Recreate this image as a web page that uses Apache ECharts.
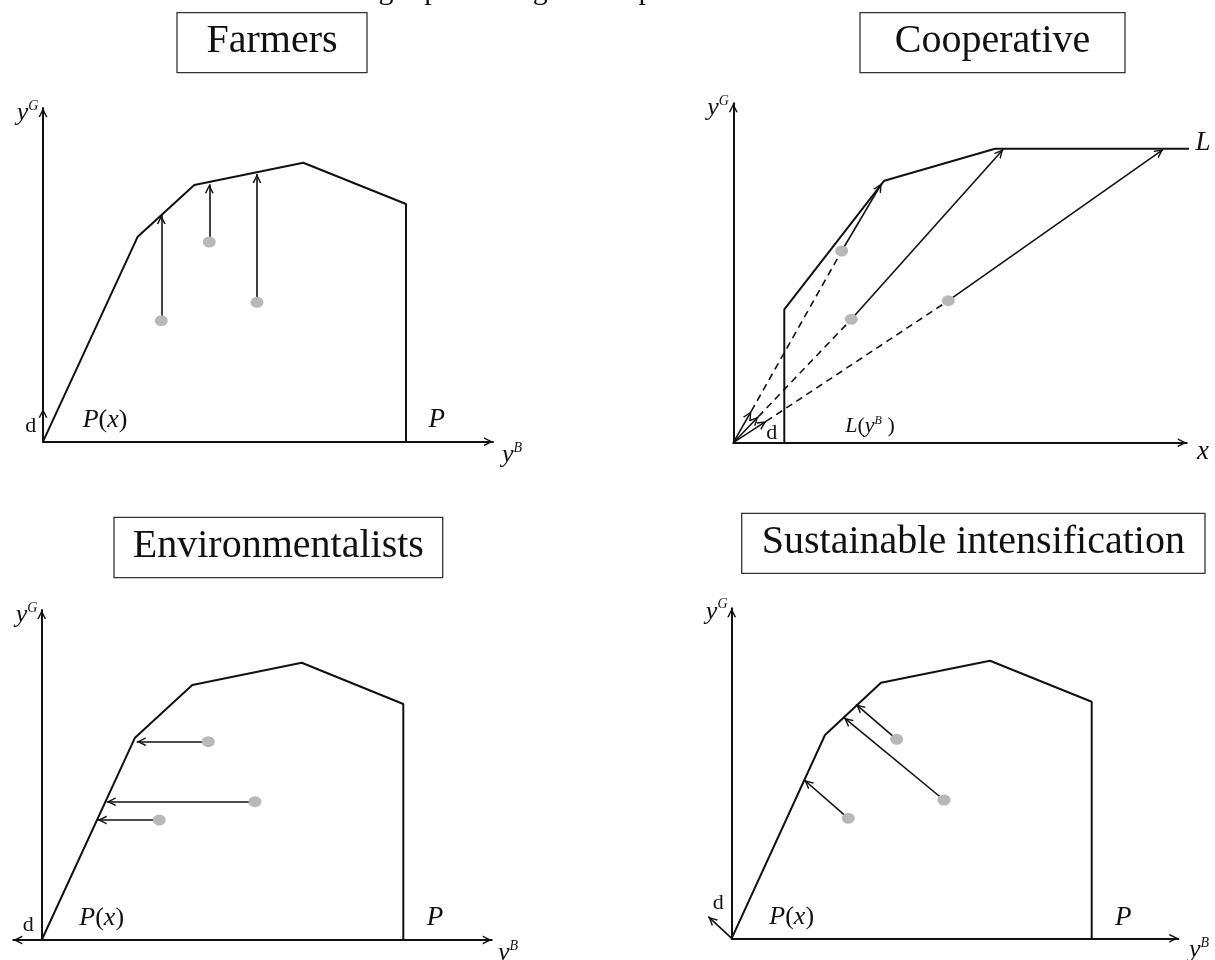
<!DOCTYPE html>
<html><head><meta charset="utf-8">
<script src="https://cdn.jsdelivr.net/npm/echarts@6/dist/echarts.min.js"></script>
<style>html,body{margin:0;padding:0;background:#fff}#c{width:1215px;height:960px}</style>
</head><body><div id="c"></div><script>
// ---------- data (units measured from each panel's origin) ----------
const titles = ['Farmers', 'Cooperative', 'Environmentalists', 'Sustainable intensification'];

// Farmers
const farmFrontX = [0, 94.7, 151.3, 260.3, 363, 363];
const farmFrontY = [0, 205, 256.7, 279, 237.7, 0];
const farmDotX = [118.3, 166.3, 214];
const farmDotY = [121, 199.7, 139.4];
const farmTipX = [118.3, 166.3, 214];
const farmTipY = [226.7, 257.4, 267.7];
const farmDirFromX = [0], farmDirFromY = [0], farmDirToX = [0], farmDirToY = [33];

// Cooperative
const coopFrontX = [51, 51, 151, 261.7, 463.4];
const coopFrontY = [0, 133.4, 262, 294, 294];
const coopDotX = [108.4, 118, 215];
const coopDotY = [191.7, 123.4, 142];
const coopTipX = [148.4, 270, 430];
const coopTipY = [259.4, 293.4, 293.4];
const coopDirToX = [18, 25, 33];
const coopDirToY = [31.5, 26, 21.5];

// Environmentalists
const envFrontX = [0, 93.3, 150.6, 260, 361.6, 361.6];
const envFrontY = [0, 202.3, 255, 277.3, 236, 0];
const envDotX = [166.6, 213.3, 117.6];
const envDotY = [198.3, 138.3, 120];
const envTipX = [95, 65, 56];
const envTipY = [198.3, 138.3, 120];

// Sustainable intensification
const siFrontX = [0, 93.3, 149.3, 258.3, 360, 360];
const siFrontY = [0, 203.3, 255.6, 277.6, 236.6, 0];
const siDotX = [116.6, 212.3, 165];
const siDotY = [120, 138.3, 199];
const siTipX = [72.6, 112.3, 124.3];
const siTipY = [158.3, 220.6, 234];
const siDirFromX = [0], siDirFromY = [0], siDirToX = [-23.4], siDirToY = [21.6];

// axis extents per panel
const xMin = [0, 0, -28.4, 0];
const xMax = [450, 453.4, 450, 446.6];
const yMax = [333.7, 339.4, 330, 330];

// text labels: [rich text, x, y]
const farmLabels = [['{dd|d}', -12.3, 15], ['{it|P}{rm|(}{it|x}{rm|)}', 62, 21.7], ['{itb|P}', 393.7, 21.7], ['{it|y}{sup|G}', -15.5, 328.7], ['{it|y}{sup|B}', 469, -13.3]];
const coopLabels = [['{it|y}{sup|G}', -15.3, 334.7], ['{itb|L}', 469.7, 299.7], ['{dd|d}', 38.4, 9.4], ['{its|L}{rms|(}{its|y}{sups|B}{rms| )}', 136.7, 16], ['{itb|x}', 469.7, -9.3]];
const envLabels = [['{dd|d}', -13.4, 15], ['{it|P}{rm|(}{it|x}{rm|)}', 60, 22], ['{itb|P}', 393.3, 22], ['{it|y}{sup|G}', -15.2, 325], ['{it|y}{sup|B}', 466.3, -13]];
const siLabels = [['{dd|d}', -13.4, 35], ['{it|P}{rm|(}{it|x}{rm|)}', 60, 21.6], ['{itb|P}', 391.6, 20], ['{it|y}{sup|G}', -15, 326.6], ['{it|y}{sup|B}', 467.3, -11.7]];

// ---------- styles / layout ----------
const SERIF = '"Liberation Serif", "Times New Roman", serif';
const INK = '#111111';
const DOT = '#b8b8b8';
const HEAD = 'path://M-5,0L-4.99,0L-5,0.01Z M15,0L15.01,0L15,0.01Z M5,10L10,20L8.2,20L5,13.4L1.8,20L0,20Z';
const grids = [
  {left: 43, top: 108, width: 450, height: 333.7},
  {left: 733.3, top: 103.3, width: 453.4, height: 339.4},
  {left: 13.3, top: 610, width: 478.4, height: 330},
  {left: 731.7, top: 608.3, width: 446.6, height: 330}
];
const titleBoxes = [
  {x: 177, y: 12.7, w: 190, h: 60},
  {x: 860, y: 12.7, w: 265, h: 60},
  {x: 114, y: 517.3, w: 328.7, h: 60.4},
  {x: 741.7, y: 513.3, w: 463.3, h: 60}
];

const pairs = (xs, ys) => xs.map((x, i) => [x, ys[i]]);
function axis(i, min, max, both) {
  return {
    type: 'value', gridIndex: i, min: min, max: max,
    axisLine: {show: true, onZero: true, symbol: both ? [HEAD, HEAD] : ['none', HEAD], symbolSize: [18, 18],
      lineStyle: {color: INK, width: 2}},
    axisTick: {show: false}, axisLabel: {show: false}, splitLine: {show: false}
  };
}
function frontier(gi, xs, ys) {
  return {type: 'line', xAxisIndex: gi, yAxisIndex: gi, data: pairs(xs, ys), symbol: 'none', showSymbol: false,
    clip: false, silent: true, lineStyle: {color: INK, width: 2}, z: 3};
}
function dots(gi, xs, ys) {
  return {type: 'scatter', xAxisIndex: gi, yAxisIndex: gi, data: pairs(xs, ys), symbol: 'circle',
    symbolSize: [13, 11], itemStyle: {color: DOT, opacity: 1}, silent: true, z: 6};
}
function arrows(gi, fx, fy, tx, ty, dashed, head) {
  return {type: 'lines', coordinateSystem: 'cartesian2d', xAxisIndex: gi, yAxisIndex: gi, clip: false, silent: true,
    symbol: ['none', head === false ? 'none' : HEAD], symbolSize: 18,
    data: fx.map((x, i) => ({coords: [[x, fy[i]], [tx[i], ty[i]]]})),
    lineStyle: {color: INK, width: 1.6, opacity: 1, curveness: 0, type: dashed ? [7, 5] : 'solid'}, z: 5};
}

const option = {
  animation: false,
  backgroundColor: '#ffffff',
  grid: grids.map(g => Object.assign({show: false}, g)),
  xAxis: [0, 1, 2, 3].map(i => axis(i, xMin[i], xMax[i], xMin[i] < 0)),
  yAxis: [0, 1, 2, 3].map(i => axis(i, 0, yMax[i], false)),
  series: [
    frontier(0, farmFrontX, farmFrontY),
    arrows(0, farmDotX, farmDotY, farmTipX, farmTipY),
    arrows(0, farmDirFromX, farmDirFromY, farmDirToX, farmDirToY),
    dots(0, farmDotX, farmDotY),

    frontier(1, coopFrontX, coopFrontY),
    arrows(1, coopDirToX, coopDirToY, coopDotX, coopDotY, true, false),
    arrows(1, coopDotX, coopDotY, coopTipX, coopTipY),
    arrows(1, coopDirToX.map(() => 0), coopDirToY.map(() => 0), coopDirToX, coopDirToY),
    dots(1, coopDotX, coopDotY),

    frontier(2, envFrontX, envFrontY),
    arrows(2, envDotX, envDotY, envTipX, envTipY),
    dots(2, envDotX, envDotY),

    frontier(3, siFrontX, siFrontY),
    arrows(3, siDotX, siDotY, siTipX, siTipY),
    arrows(3, siDirFromX, siDirFromY, siDirToX, siDirToY),
    dots(3, siDotX, siDotY)
  ]
};

const chart = echarts.init(document.getElementById('c'), null, {renderer: 'canvas'});
chart.setOption(option);

const rich = {
  it: {fontFamily: SERIF, fontStyle: 'italic', fontSize: 26, fill: INK, lineHeight: 28},
  itb: {fontFamily: SERIF, fontStyle: 'italic', fontSize: 27, fill: INK, lineHeight: 28},
  rm: {fontFamily: SERIF, fontSize: 26, fill: INK, lineHeight: 28},
  sup: {fontFamily: SERIF, fontStyle: 'italic', fontSize: 14, fill: INK, lineHeight: 12, verticalAlign: 'top'},
  dd: {fontFamily: SERIF, fontSize: 22, fill: INK, lineHeight: 24},
  its: {fontFamily: SERIF, fontStyle: 'italic', fontSize: 22, fill: INK, lineHeight: 24},
  rms: {fontFamily: SERIF, fontSize: 22, fill: INK, lineHeight: 24},
  sups: {fontFamily: SERIF, fontStyle: 'italic', fontSize: 12, fill: INK, lineHeight: 10, verticalAlign: 'top'}
};

const graphics = [];
// cut-off sentence at the very top of the page
graphics.push({type: 'text', x: 696, y: -9, silent: true,
  style: {text: 'the frontier is increased while increasing inputs and good outputs.', font: '30px ' + SERIF,
    fill: INK, align: 'right', verticalAlign: 'middle'}});
titleBoxes.forEach((b, i) => {
  graphics.push({type: 'rect', shape: {x: b.x, y: b.y, width: b.w, height: b.h}, silent: true,
    style: {fill: '#fff', stroke: '#333', lineWidth: 1.3}});
  graphics.push({type: 'text', x: b.x + b.w / 2, y: b.y + b.h / 2 - 1, silent: true,
    style: {text: titles[i], font: '40px ' + SERIF, fill: INK, align: 'center', verticalAlign: 'middle'}});
});
[farmLabels, coopLabels, envLabels, siLabels].forEach((list, gi) => {
  list.forEach(l => {
    const p = chart.convertToPixel({gridIndex: gi}, [l[1], l[2]]);
    graphics.push({type: 'text', x: p[0], y: p[1], silent: true, z: 10,
      style: {text: l[0], rich: rich, align: 'center', verticalAlign: 'middle'}});
  });
});
chart.setOption({graphic: graphics});
</script></body></html>
